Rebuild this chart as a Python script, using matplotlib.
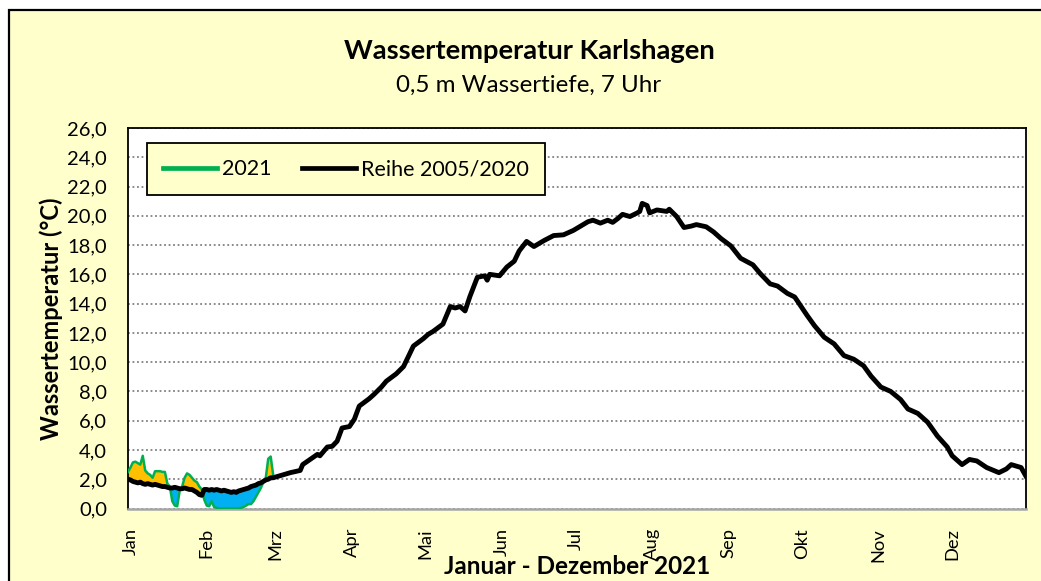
import numpy as np
import matplotlib
matplotlib.use("Agg")
import matplotlib.pyplot as plt
from matplotlib.patches import Rectangle

plt.rcParams["font.family"] = ["Lato", "DejaVu Sans"]

# ---- data (day of year, deg C) ----
# 2021 daily values, 1 Jan .. 1 Mar
days_2021 = list(range(60))
temp_2021 = [2.5, 2.8, 3.15, 3.2, 3.1, 3.0, 3.6, 2.6, 2.4, 2.3,
             2.1, 2.55, 2.55, 2.55, 2.5, 2.5, 1.7, 1.5, 0.5, 0.2,
             0.15, 1.2, 1.5, 2.1, 2.4, 2.3, 2.1, 1.9, 1.8, 1.5,
             1.3, 0.6, 0.2, 0.15, 0.5, 0.1, 0.05, 0.0, 0.0, 0.0,
             0.0, 0.0, 0.0, 0.0, 0.0, 0.0, 0.05, 0.1, 0.2, 0.3,
             0.3, 0.5, 0.8, 1.1, 1.4, 1.8, 2.1, 3.4, 3.55, 2.3]
# long-term mean 2005/2020, same days as 2021
ref_early = [2.0, 1.95, 1.85, 1.8, 1.75, 1.8, 1.7, 1.65, 1.7, 1.65,
             1.6, 1.65, 1.6, 1.55, 1.5, 1.5, 1.45, 1.4, 1.4, 1.45,
             1.4, 1.35, 1.35, 1.4, 1.35, 1.3, 1.3, 1.2, 1.1, 0.95,
             0.9, 1.3, 1.3, 1.25, 1.3, 1.25, 1.3, 1.25, 1.2, 1.25,
             1.2, 1.15, 1.1, 1.15, 1.1, 1.2, 1.25, 1.3, 1.35, 1.4,
             1.5, 1.55, 1.6, 1.7, 1.75, 1.85, 1.95, 2.0, 2.1, 2.1]
# long-term mean, rest of the year
days_late = [61, 66, 70, 71, 74, 77, 78, 81, 83, 85, 87, 90, 92, 94, 98, 100,
             103, 105, 109, 112, 114, 116, 120, 122, 124, 128, 131, 133, 135, 137,
             139, 142, 145, 146, 147, 151, 154, 157, 159, 162, 165, 169, 173, 177,
             181, 184, 187, 189, 192, 195, 197, 199, 201, 204, 207, 208, 209, 211,
             212, 215, 219, 220, 223, 226, 229, 231, 235, 238, 241, 245, 249, 254,
             257, 261, 264, 268, 271, 276, 279, 283, 287, 291, 295, 299, 302, 306,
             310, 314, 317, 321, 325, 329, 333, 335, 339, 342, 345, 349, 354, 357,
             359, 363, 365]
ref_late = [2.2, 2.45, 2.6, 3.0, 3.35, 3.7, 3.6, 4.2, 4.25, 4.6, 5.5, 5.6, 6.1, 7.0, 7.5, 7.8,
            8.3, 8.7, 9.2, 9.7, 10.4, 11.1, 11.6, 11.9, 12.1, 12.6, 13.8, 13.7, 13.8, 13.5,
            14.5, 15.8, 15.9, 15.6, 16.0, 15.9, 16.5, 16.9, 17.6, 18.25, 17.9, 18.3, 18.65, 18.7,
            19.0, 19.3, 19.6, 19.7, 19.5, 19.7, 19.55, 19.8, 20.1, 19.95, 20.2, 20.3, 20.85, 20.7,
            20.2, 20.4, 20.3, 20.45, 19.95, 19.2, 19.3, 19.4, 19.25, 18.9, 18.45, 17.95, 17.1, 16.65,
            16.05, 15.35, 15.2, 14.7, 14.45, 13.2, 12.5, 11.7, 11.25, 10.45, 10.2, 9.75, 9.05, 8.3,
            8.0, 7.45, 6.8, 6.5, 5.9, 4.95, 4.2, 3.6, 3.0, 3.35, 3.25, 2.8, 2.45, 2.7,
            3.0, 2.8, 2.2]
month_start = [0, 31, 59, 90, 120, 151, 181, 212, 243, 273, 304, 334]
month_lbl = ["Jan", "Feb", "Mrz", "Apr", "Mai", "Jun", "Jul", "Aug", "Sep", "Okt", "Nov", "Dez"]
yticks = np.arange(0, 27, 2)

BG = "#FFFFCC"
fig = plt.figure(figsize=(10.41, 5.81), dpi=100)
fig.patches.append(Rectangle((9/1041, -0.1), 1.2, (581-10)/581 + 0.1, transform=fig.transFigure,
                             facecolor=BG, edgecolor="black", lw=1.6, zorder=-10))
ax = fig.add_axes([128/1041, (581-508.5)/581, 898/1041, 380.5/581])
ax.set_facecolor("white")

d = np.array(days_2021); t = np.array(temp_2021); r = np.array(ref_early)
ax.fill_between(d, t, r, where=t >= r, interpolate=True, color="#FFC000", lw=0, zorder=2)
ax.fill_between(d, t, r, where=t <= r, interpolate=True, color="#00B0F0", lw=0, zorder=2)
ax.plot(d, t, color="#00B050", lw=1.8, zorder=3, label="2021")
ax.plot(days_2021 + days_late, ref_early + ref_late, color="black", lw=3.5, zorder=4,
        solid_joinstyle="round", label="Reihe 2005/2020")

ax.set_xlim(0, 365); ax.set_ylim(0, 26)
ax.set_yticks(yticks)
ax.set_yticklabels([f"{v:.1f}".replace(".", ",") for v in yticks], fontsize=14.5)
ax.set_xticks([m + 1 for m in month_start])
ax.set_xticklabels(month_lbl, rotation=90, fontsize=13.2, va="top", ha="center")
ax.tick_params(axis="y", length=0, pad=15)
ax.tick_params(axis="x", length=0, pad=14)
ax.yaxis.grid(True, color="#808080", ls=(0, (1, 1.5)), lw=1.3)
ax.set_axisbelow(True)
for s in ["left", "top", "right"]:
    ax.spines[s].set_color("black"); ax.spines[s].set_linewidth(1.3)
ax.spines["bottom"].set_color("#A6A6A6"); ax.spines["bottom"].set_linewidth(1.8)

ax.set_ylabel("Wassertemperatur (°C)", fontsize=17, fontweight="bold", labelpad=3)
fig.text(577/1041, 1 - 567/581, "Januar - Dezember 2021", fontsize=17.5, fontweight="bold",
         ha="center", va="center")
fig.text(529/1041, 1 - 51/581, "Wassertemperatur Karlshagen", fontsize=19.7, fontweight="bold",
         ha="center", va="center")
fig.text(529/1041, 1 - 85/581, "0,5 m Wassertiefe, 7 Uhr", fontsize=17.4, ha="center", va="center")

leg = ax.legend(loc="upper left", bbox_to_anchor=(19/898, 1 - 15/380.5), ncol=2, fontsize=15.5,
                frameon=True, fancybox=False, edgecolor="black", facecolor=BG, framealpha=1,
                handlelength=2.5, handletextpad=0.25, columnspacing=1.4, borderpad=0.75,
                borderaxespad=0)
leg.get_frame().set_linewidth(1.3)
for h in leg.get_lines():
    h.set_linewidth(3.4)

fig.savefig("out.png", dpi=100)
